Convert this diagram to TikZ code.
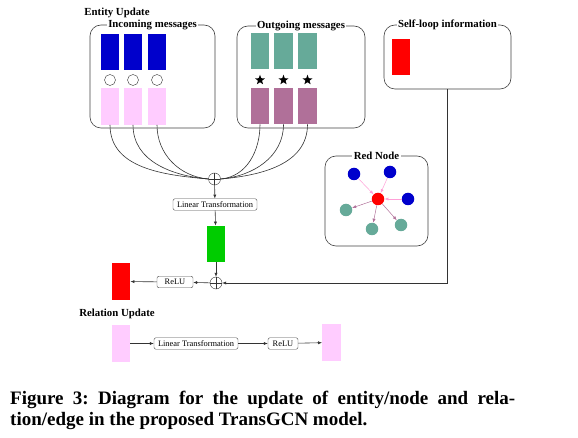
\documentclass[tikz,border=0pt]{standalone}
\usepackage{fontspec}
\setmainfont{Liberation Serif}
\usetikzlibrary{positioning, arrows.meta, shapes.geometric}
\definecolor{MsgBlue}{RGB}{0,0,204}
\definecolor{MsgPink}{RGB}{255,204,255}
\definecolor{MsgTeal}{RGB}{102,170,153}
\definecolor{MsgMauve}{RGB}{176,112,153}
\definecolor{SelfRed}{RGB}{255,0,0}
\definecolor{OutGreen}{RGB}{0,204,0}
\definecolor{EdgePink}{RGB}{255,160,215}
\tikzset{
  vec/.style={minimum width=18.5pt, minimum height=36.5pt, inner sep=0pt},
  grp/.style={draw=black!75, rounded corners=11pt, line width=0.6pt, inner sep=0pt},
  grptitle/.style={fill=white, font=\fontsize{10.8}{12}\selectfont\bfseries, inner sep=1.5pt},
  optitle/.style={font=\fontsize{10.8}{12}\selectfont\bfseries, inner sep=0pt},
  opbox/.style={draw=black!70, rounded corners=2pt, font=\fontsize{8.4}{9}\selectfont, inner xsep=2.5pt, inner ysep=1pt, minimum height=11.5pt},
  sumnode/.style={circle, draw=black!80, minimum size=12pt, inner sep=0pt,
    path picture={\draw[black!80] (path picture bounding box.north) -- (path picture bounding box.south)
      (path picture bounding box.west) -- (path picture bounding box.east);}},
  gnode/.style={circle, minimum size=12.5pt, inner sep=0pt},
  wire/.style={draw=black!80, line width=0.6pt},
  captext/.style={anchor=base west, inner sep=0pt, font=\fontsize{19}{21}\selectfont\bfseries\frenchspacing},
}
\begin{document}
\begin{tikzpicture}[x=1pt, y=-1pt, >={Latex[length=4pt,width=3.2pt]}]
  \useasboundingbox (0,0) rectangle (578,438);
  % Title
  \node[optitle] (entitytitle) at (117,13) {Entity Update};
  % Message groups
  \node[grp, minimum width=125pt, minimum height=103pt] (incbox) at (152.5,76.5) {};
  \node[grp, minimum width=128pt, minimum height=102pt] (outbox) at (301,77) {};
  \node[grp, minimum width=127pt, minimum height=64pt] (selfbox) at (447.5,57) {};
  \node[grptitle] (inctitle) at (incbox.north) {Incoming messages};
  \node[grptitle] (outtitle) at (outbox.north) {Outgoing messages};
  \node[grptitle] (selftitle) at (selfbox.north) {Self-loop information};
  % Incoming
  \foreach \x [count=\i] in {110,133,157} {
    \node[vec, fill=MsgBlue] (inb\i) at (\x,52) {};
    \node[circle, draw=black!80, minimum size=11pt, inner sep=0pt] (incirc\i) at (\x,80) {};
    \node[vec, fill=MsgPink] (inp\i) at (\x,106.5) {};
  }
  % Outgoing
  \foreach \x [count=\i] in {260,283.5,307.5} {
    \node[vec, fill=MsgTeal] (outt\i) at (\x,51) {};
    \node[star, star points=5, star point ratio=2.4, fill=black, minimum size=10.5pt, inner sep=0pt] (outstar\i) at (\x,80) {};
    \node[vec, fill=MsgMauve] (outm\i) at (\x,106) {};
  }
  % Self-loop
  \node[vec, fill=SelfRed] (selfvec) at (401,57) {};
  % Aggregation
  \node[sumnode] (sum1) at (214.5,179) {};
  \foreach \i in {1,2,3} {
    \draw[wire] (inp\i.south) to[out=-90, in=175] (sum1.west);
    \draw[wire] (outm\i.south) to[out=-90, in=5] (sum1.east);
  }
  \node[opbox, minimum width=84pt] (lin1) at (215,204.5) {Linear Transformation};
  \node[vec, fill=OutGreen] (green) at (216,244) {};
  \node[sumnode] (sum2) at (216,283) {};
  \node[opbox, minimum width=36pt] (relu1) at (175,282) {ReLU};
  \node[vec, fill=SelfRed] (redout) at (121,281.5) {};
  \draw[wire, ->] (sum1) -- (lin1);
  \draw[wire, ->] (lin1) -- (green);
  \draw[wire, ->] (green) -- (sum2);
  \draw[wire, ->] (sum2) -- (relu1);
  \draw[wire, ->] (relu1) -- (redout);
  \draw[wire, ->] (selfbox.south) |- (sum2.east);
  % Red node neighbourhood
  \node[grp, minimum width=103pt, minimum height=90pt] (redbox) at (376.5,201) {};
  \node[grptitle] (redtitle) at (redbox.north) {Red Node};
  \node[gnode, fill=SelfRed] (center) at (378,199) {};
  \node[gnode, fill=MsgBlue] (nb1) at (354,174) {};
  \node[gnode, fill=MsgBlue] (nb2) at (390,172) {};
  \node[gnode, fill=MsgBlue] (nb3) at (408,199) {};
  \node[gnode, fill=MsgTeal] (nt1) at (346,210) {};
  \node[gnode, fill=MsgTeal] (nt2) at (372,229) {};
  \node[gnode, fill=MsgTeal] (nt3) at (401,225) {};
  \foreach \n in {nb1,nb2,nb3} {\draw[->, EdgePink, line width=0.5pt] (\n) -- (center);}
  \foreach \n in {nt1,nt2,nt3} {\draw[->, MsgMauve, line width=0.5pt] (center) -- (\n);}
  % Relation update
  \node[optitle] (reltitle) at (117,314) {Relation Update};
  \node[vec, fill=MsgPink] (relin) at (121,343.5) {};
  \node[opbox, minimum width=84pt] (lin2) at (196,343.5) {Linear Transformation};
  \node[opbox, minimum width=30pt] (relu2) at (283,343.5) {ReLU};
  \node[vec, fill=MsgPink] (relout) at (331.5,342.5) {};
  \draw[wire, ->] (relin) -- (lin2);
  \draw[wire, ->] (lin2) -- (relu2);
  \draw[wire, ->] (relu2) -- (relout);
  % Caption
  \node[captext] (cap1) at (10,404)
    {\makebox[505pt][s]{Figure 3: Diagram for the update of entity/node and rela-}};
  \node[captext] (cap2) at (10,425) {tion/edge in the proposed TransGCN model.};
\end{tikzpicture}
\end{document}
